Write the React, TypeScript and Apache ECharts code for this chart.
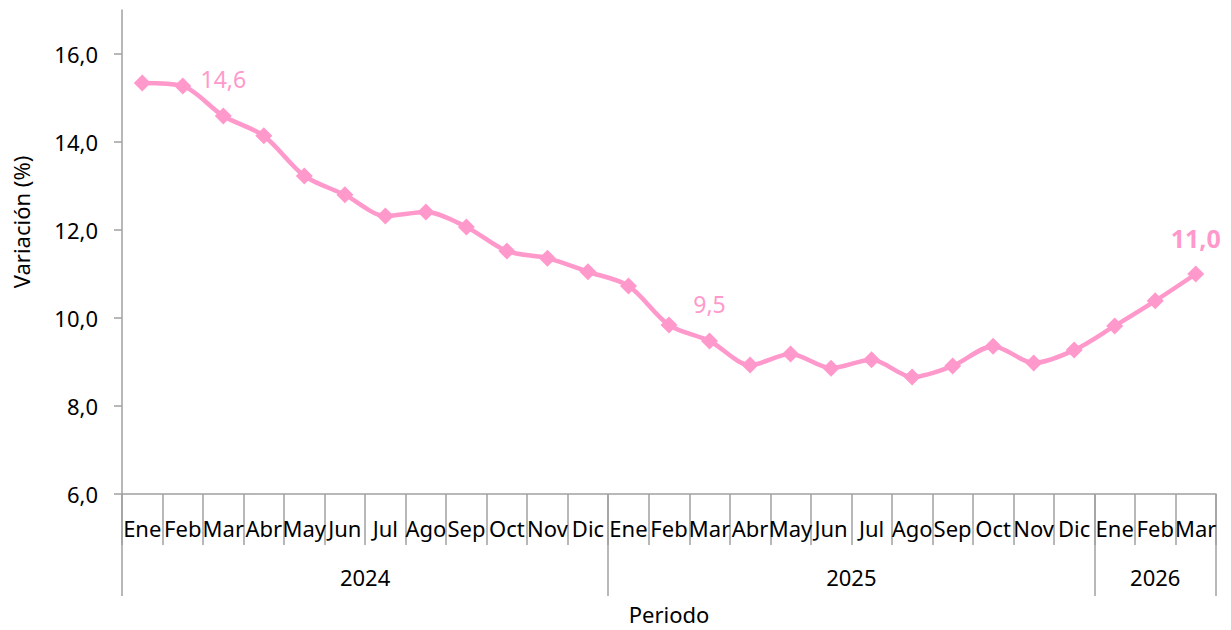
import React, { useEffect, useRef } from "react";
import * as echarts from "echarts";

const months = [
  "Ene", "Feb", "Mar", "Abr", "May", "Jun", "Jul", "Ago", "Sep", "Oct", "Nov", "Dic",
  "Ene", "Feb", "Mar", "Abr", "May", "Jun", "Jul", "Ago", "Sep", "Oct", "Nov", "Dic",
  "Ene", "Feb", "Mar",
];
const values = [
  15.34, 15.27, 14.59, 14.14, 13.23, 12.8, 12.32, 12.41, 12.07, 11.52, 11.36, 11.05,
  10.73, 9.84, 9.48, 8.93, 9.18, 8.86, 9.05, 8.66, 8.91, 9.36, 8.98, 9.27,
  9.82, 10.39, 11.0,
];
const years = ["2024", "2025", "2026"];
const yearStarts = [0, 12, 24, 27];
const labeledIdx = [2, 14, 26];
const boldIdx = 26;

const FONT = "Noto Sans";
const PINK = "#FF99CC";
const TEXT = "#000";
const AX = "#A0A0A0";

export default function App() {
  const ref = useRef<HTMLDivElement>(null);
  useEffect(() => {
    if (!ref.current) return;
    const chart = echarts.init(ref.current, null, { renderer: "svg" });
    const yearCenters = years.map((_, i) => (yearStarts[i] + yearStarts[i + 1]) / 2);
    const data = values.map((v, i) => {
      if (!labeledIdx.includes(i)) return v;
      const bold = i === boldIdx;
      return {
        value: v,
        label: {
          show: true,
          position: "top",
          distance: bold ? 15 : 17,
          color: PINK,
          fontFamily: FONT,
          fontSize: bold ? 25 : 23,
          fontWeight: bold ? "bold" : "normal",
          formatter: (p: any) => p.value.toFixed(1).replace(".", ","),
        },
      };
    });
    chart.setOption({
      animation: false,
      textStyle: { fontFamily: FONT },
      grid: {
        left: 122,
        right: 15,
        top: 10,
        bottom: 136,
        containLabel: false,
        outerBoundsMode: "none",
      },
      xAxis: [
        {
          type: "category",
          data: months,
          boundaryGap: true,
          axisLine: { show: true, lineStyle: { color: AX, width: 1.5 } },
          axisTick: { show: true, interval: 0, length: 51, lineStyle: { color: AX, width: 1.5 } },
          axisLabel: { interval: 0, margin: 23, color: TEXT, fontSize: 22, fontFamily: FONT },
          splitLine: { show: false },
        },
        {
          type: "value",
          position: "bottom",
          min: 0,
          max: 27,
          axisLine: { show: false },
          axisTick: {
            show: true,
            customValues: yearStarts,
            length: 102,
            lineStyle: { color: AX, width: 1.5 },
          },
          axisLabel: {
            show: true,
            customValues: yearCenters,
            margin: 72,
            color: TEXT,
            fontSize: 22,
            fontFamily: FONT,
            formatter: (v: number) => {
              const i = yearCenters.indexOf(v);
              return i >= 0 ? years[i] : "";
            },
          },
          splitLine: { show: false },
          name: "Periodo",
          nameLocation: "middle",
          nameGap: 109,
          nameTextStyle: { color: TEXT, fontSize: 22, lineHeight: 22, fontFamily: FONT },
        },
      ],
      yAxis: {
        type: "value",
        min: 6,
        max: 17,
        interval: 2,
        axisLine: { show: true, lineStyle: { color: AX, width: 1.5 } },
        axisTick: { show: true, length: 8, lineStyle: { color: AX, width: 1.5 } },
        axisLabel: {
          margin: 24,
          color: TEXT,
          fontSize: 22,
          fontFamily: FONT,
          formatter: (v: number) => v.toFixed(1).replace(".", ","),
          showMaxLabel: false,
        },
        splitLine: { show: false },
        name: "Variación (%)",
        nameLocation: "middle",
        nameGap: 90,
        nameTextStyle: { color: TEXT, fontSize: 22, fontFamily: FONT, padding: [0, 0, 0, 60] },
      },
      series: [
        {
          type: "line",
          xAxisIndex: 0,
          data,
          smooth: 0.3,
          symbol: "diamond",
          symbolSize: 17,
          itemStyle: { color: PINK },
          lineStyle: { color: PINK, width: 4.5 },
        },
      ],
    });
    return () => chart.dispose();
  }, []);
  return <div ref={ref} style={{ width: 1231, height: 630, position: "absolute", left: 0, top: 0 }} />;
}
